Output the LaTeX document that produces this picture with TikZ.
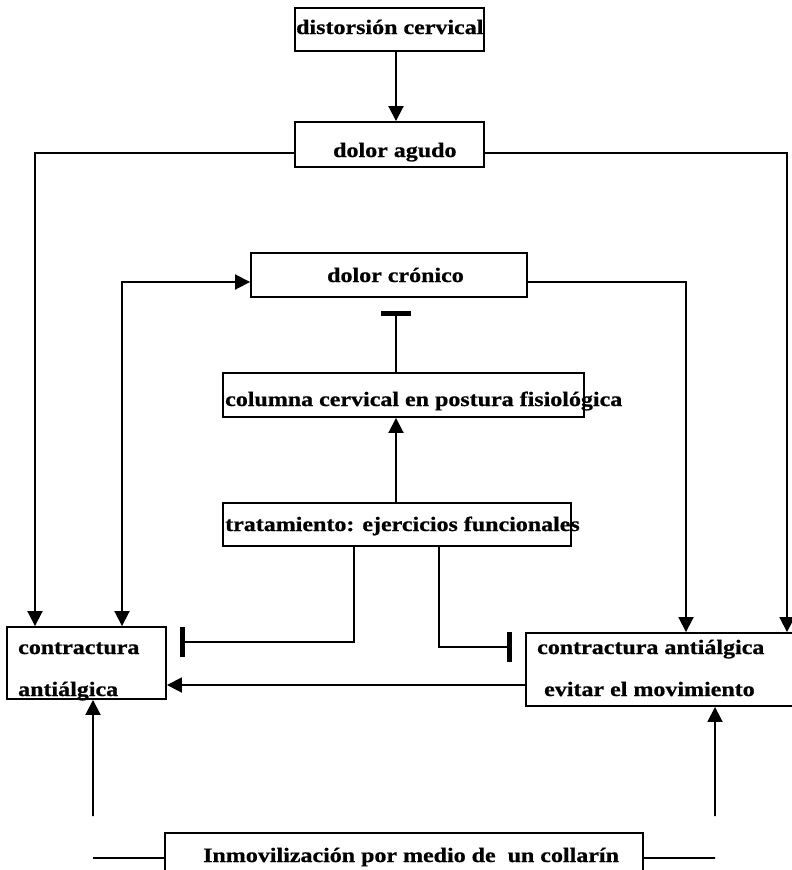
\documentclass[tikz,border=0pt]{standalone}
\usepackage{fontspec}
\setmainfont{Liberation Serif}[FakeStretch=1.17,FakeBold=0.8]
\usetikzlibrary{arrows.meta}
\begin{document}
\begin{tikzpicture}[x=1bp,y=-1bp,
  box/.style={draw, line width=1.9bp, inner sep=0pt, minimum width=#1},
  txt/.style={font=\fontsize{20.5bp}{24bp}\selectfont\bfseries, inner sep=0pt, anchor=base west},
  con/.style={line width=1.9bp},
  arr/.style={con, -{Triangle[width=15bp,length=15bp]}},
  both/.style={con, {Triangle[width=15bp,length=15bp]}-{Triangle[width=15bp,length=15bp]}},
  inh/.style={con, -{Bar[width=30bp,line width=5bp]}, shorten >=13bp}
]
\useasboundingbox (0,0) rectangle (792,870);
\clip (0,0) rectangle (792,870);
\fill[white] (0,0) rectangle (792,870);

% boxes
\node[box=189bp, minimum height=43bp] (dist) at (389.5,29.5) {};
\node[box=189bp, minimum height=45bp] (agudo) at (389.5,144.5) {};
\node[box=276bp, minimum height=44bp] (cron) at (389,275) {};
\node[box=361bp, minimum height=44bp] (col) at (403.5,395) {};
\node[box=348bp, minimum height=43bp] (trat) at (397,524.5) {};
\node[box=159bp, minimum height=72bp] (lc) at (86.5,663) {};
\node[box=274bp, minimum height=73bp] (rc) at (663,669.5) {};
\node[box=478bp, minimum height=57bp] (bot) at (404,861.5) {};

% texts
\node[txt] (distt) at (296,34) {distorsión cervical};
\node[txt] (agudot) at (333,157) {dolor agudo};
\node[txt] (cront) at (327,282) {dolor crónico};
\node[txt] (colt) at (225,406) {columna cervical en postura fisiológica};
\node[txt] (tratt) at (225,531) {tratamiento: ejercicios funcionales};
\node[txt] (lct1) at (18,654) {contractura};
\node[txt] (lct2) at (18,696) {antiálgica};
\node[txt] (rct1) at (537,654) {contractura antiálgica};
\node[txt] (rct2) at (544,696) {evitar el movimiento};
\node[txt] (bott) at (203,862) {Inmovilización por medio de\ \ un collarín};

% helper coordinates for the broken lines at the bottom
\coordinate (kL1) at (93,858);
\coordinate (kL2) at (93,816);
\coordinate (kR1) at (715,858);
\coordinate (kR2) at (715,816);

% connectors
\draw[arr] ([xshift=6.5bp]dist.south) -- ([xshift=6.5bp]agudo.north);
\draw[arr] ([yshift=-8.5bp]agudo.west) -| ([xshift=-51.5bp]lc.north);
\draw[arr] ([yshift=-8.5bp]agudo.east) -| ([xshift=124bp]rc.north);
\draw[both] ([xshift=35.5bp]lc.north) |- ([yshift=-7bp]cron.west);
\draw[arr] ([yshift=-7bp]cron.east) -| ([xshift=23bp]rc.north);
\draw[inh] ([xshift=-7.5bp]col.north) -- ([xshift=7bp]cron.south);
\draw[arr] ([xshift=-1bp]trat.north) -- ([xshift=-7.5bp]col.south);
\draw[inh] ([xshift=-43bp]trat.south) |- ([yshift=21bp]lc.east);
\draw[inh] ([xshift=42bp]trat.south) |- ([yshift=22.5bp]rc.west);
\draw[arr] ([yshift=-15.5bp]rc.west) -- ([yshift=-22bp]lc.east);
\draw[con] ([yshift=3.5bp]bot.west) -- (kL1);
\draw[arr] (kL2) -- ([xshift=6.5bp]lc.south);
\draw[con] ([yshift=3.5bp]bot.east) -- (kR1);
\draw[arr] (kR2) -- ([xshift=52bp]rc.south);
\end{tikzpicture}
\end{document}
